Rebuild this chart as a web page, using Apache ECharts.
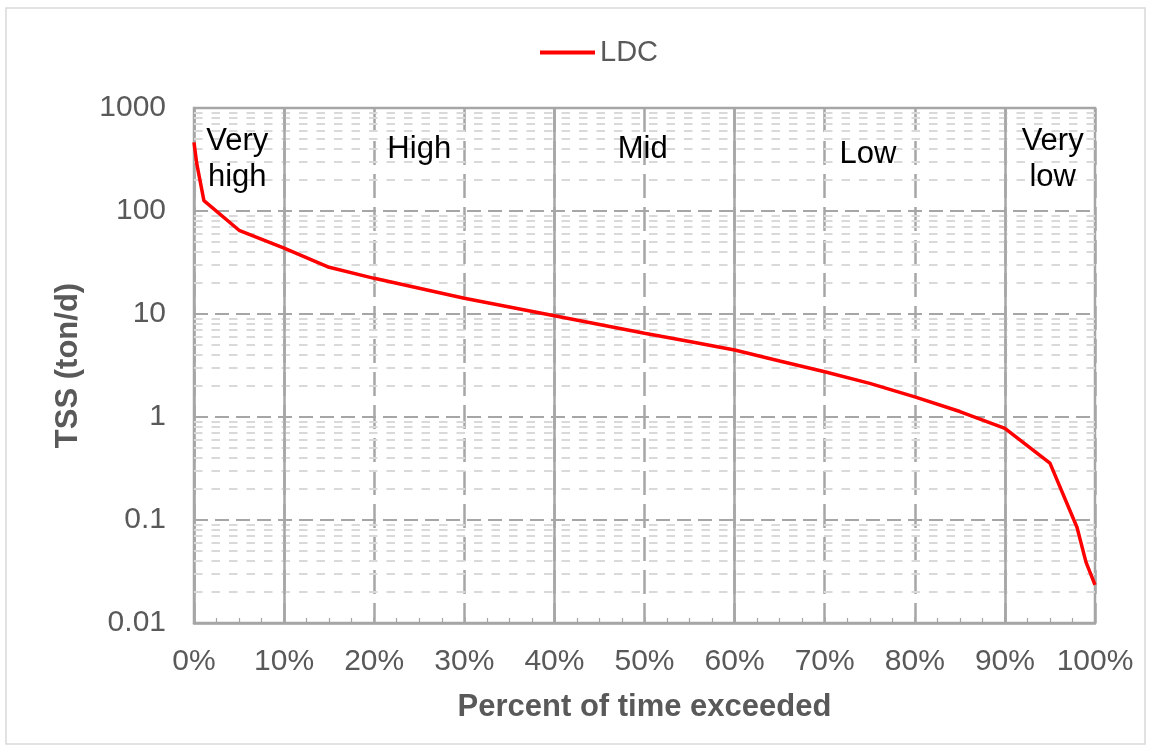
<!DOCTYPE html>
<html>
<head>
<meta charset="utf-8">
<title>TSS load duration curve</title>
<script src="https://cdn.jsdelivr.net/npm/echarts@6/dist/echarts.min.js"></script>
<style>
  html, body { margin: 0; padding: 0; background: #ffffff; }
  #chart { width: 1151px; height: 748px; }
</style>
</head>
<body>
<div id="chart"></div>
<script>
// Load duration curve: percent of time a TSS load is exceeded
const pctExceeded = [0, 0.3, 1.1, 5, 10, 15, 20, 25, 30, 40, 45, 50, 55, 60, 65, 70, 75, 80, 85, 90, 95, 98, 99, 100];
const tssLoad = [464, 290, 126, 65, 43.5, 28.4, 22.2, 17.8, 14.2, 9.6, 7.9, 6.5, 5.4, 4.47, 3.5, 2.75, 2.12, 1.57, 1.13, 0.776, 0.357, 0.085, 0.039, 0.0235];

// Flow-regime zones
const zoneNames = ['Very\nhigh', 'High', 'Mid', 'Low', 'Very\nlow'];
const zoneLabelX = [4.8, 25, 49.8, 74.8, 95.3];
const zoneLabelY = [320, 400, 400, 356, 320];
const zoneBounds = [10, 40, 60, 90];

// Log axis decades and the in-between gridline multipliers
const decadeStarts = [0.01, 0.1, 1, 10, 100];
const minorMultipliers = [2, 3, 4, 5, 6, 7, 8, 9];

const FONT = "'Liberation Sans', Arial, sans-serif";
const AXIS_GRAY = '#a6a6a6';
const TEXT_GRAY = '#595959';

const curve = pctExceeded.map((p, i) => [p, tssLoad[i]]);

const minorLines = [];
decadeStarts.forEach(d => minorMultipliers.forEach(m => {
  minorLines.push({ yAxis: +(d * m).toPrecision(3) });
}));

const chart = echarts.init(document.getElementById('chart'), null, { renderer: 'canvas' });

chart.setOption({
  backgroundColor: '#ffffff',
  animation: false,
  textStyle: { fontFamily: FONT },
  graphic: [{
    type: 'rect',
    shape: { x: 6, y: 8, width: 1139, height: 736 },
    style: { fill: 'none', stroke: '#d9d9d9', lineWidth: 1.5 },
    silent: true
  }],
  legend: {
    data: ['LDC'],
    left: 535,
    top: 33,
    icon: 'rect',
    itemWidth: 55,
    itemHeight: 4,
    textStyle: { fontFamily: FONT, fontSize: 29, color: TEXT_GRAY }
  },
  grid: {
    left: 194, right: 56, top: 108, bottom: 125,
    show: true,
    borderColor: AXIS_GRAY,
    borderWidth: 2.5,
    backgroundColor: 'transparent'
  },
  xAxis: {
    type: 'value',
    min: 0, max: 100, interval: 10,
    name: 'Percent of time exceeded',
    nameLocation: 'middle',
    nameGap: 69,
    nameTextStyle: { fontFamily: FONT, fontSize: 31, fontWeight: 'bold', color: TEXT_GRAY },
    axisLine: { show: true, lineStyle: { color: AXIS_GRAY, width: 2.5 } },
    axisTick: { show: true, inside: true, length: 6, lineStyle: { color: AXIS_GRAY, width: 1.5 } },
    minorTick: { show: true, splitNumber: 4, length: 5, lineStyle: { color: AXIS_GRAY, width: 1.2 } },
    axisLabel: { fontFamily: FONT, fontSize: 30, color: TEXT_GRAY, margin: 24, formatter: '{value}%' },
    splitLine: { show: true, lineStyle: { color: AXIS_GRAY, width: 2.5, type: [24, 9] } }
  },
  yAxis: {
    type: 'log',
    logBase: 10,
    min: 0.01, max: 1000,
    name: 'TSS (ton/d)',
    nameLocation: 'middle',
    nameGap: 110,
    nameTextStyle: { fontFamily: FONT, fontSize: 31, fontWeight: 'bold', color: TEXT_GRAY },
    axisLine: { show: true, lineStyle: { color: AXIS_GRAY, width: 2.5 } },
    axisTick: { show: false },
    axisLabel: {
      fontFamily: FONT, fontSize: 30, color: TEXT_GRAY, margin: 28,
      formatter: v => String(+v.toPrecision(3))
    },
    splitLine: { show: true, lineStyle: { color: AXIS_GRAY, width: 2, type: [14, 7] } }
  },
  series: [
    {
      // light dashed gridlines at 2..9 within each decade
      name: 'minorGrid',
      type: 'line',
      data: [],
      silent: true,
      markLine: {
        silent: true,
        z: 1,
        symbol: ['none', 'none'],
        label: { show: false },
        lineStyle: { color: '#d9d9d9', width: 2, type: [8.5, 9] },
        data: minorLines
      }
    },
    {
      // solid boundaries between flow zones, with zone names
      name: 'zones',
      type: 'line',
      data: [],
      silent: true,
      markLine: {
        silent: true,
        z: 1.5,
        symbol: ['none', 'none'],
        label: { show: false },
        lineStyle: { color: AXIS_GRAY, width: 2.5, type: 'solid' },
        data: zoneBounds.map(v => ({ xAxis: v }))
      },
      markPoint: {
        silent: true,
        z: 4,
        symbol: 'circle',
        symbolSize: 0,
        label: {
          show: true,
          position: 'inside',
          fontFamily: FONT,
          fontSize: 31,
          lineHeight: 36,
          color: '#000000',
          formatter: p => p.name
        },
        data: zoneNames.map((n, i) => ({ name: n, coord: [zoneLabelX[i], zoneLabelY[i]] }))
      }
    },
    {
      name: 'LDC',
      type: 'line',
      z: 3,
      data: curve,
      showSymbol: false,
      symbol: 'none',
      smooth: false,
      color: '#ff0000',
      lineStyle: { color: '#ff0000', width: 3.5 }
    }
  ]
});
</script>
</body>
</html>
